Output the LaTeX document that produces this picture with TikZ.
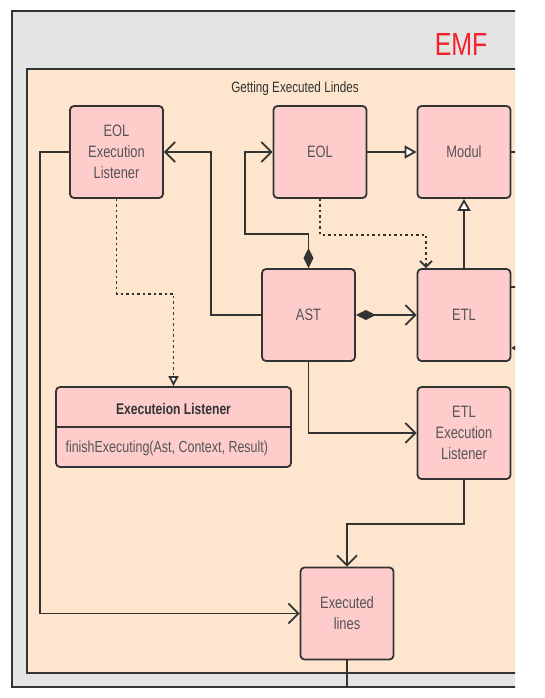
\documentclass[tikz,border=0pt]{standalone}
\usepackage{fontspec}
\setmainfont{Liberation Sans}[FakeStretch=0.78]
\usetikzlibrary{arrows.meta}
\definecolor{framegray}{HTML}{E4E4E4}
\definecolor{peach}{HTML}{FDE6CD}
\definecolor{boxpink}{HTML}{FFCCCC}
\definecolor{edge}{HTML}{333333}
\definecolor{labelgray}{HTML}{555555}
\definecolor{emfred}{HTML}{F5222D}
\tikzset{
  box/.style={draw=edge, fill=boxpink, line width=1.8pt, rounded corners=4pt,
    minimum width=93pt, minimum height=92pt, inner sep=0pt, align=center,
    text=labelgray, font=\fontsize{16.5}{21}\selectfont},
  classbox/.style={box, minimum width=235pt, minimum height=80pt},
  link/.style={draw=edge, line width=1.8pt, -{Straight Barb[length=10pt,width=20pt]}},
  owns/.style={link, {Diamond[length=20pt,width=10pt]}-{Straight Barb[length=10pt,width=20pt]}},
  inherit/.style={draw=edge, line width=1.8pt, -{Triangle[length=12pt,width=13pt,fill=white]}},
  realize/.style={draw=edge, line width=1.8pt, dash pattern=on 2.5pt off 3pt,
    -{Triangle[length=10pt,width=10pt,fill=white]}},
  uses/.style={draw=edge, line width=1.8pt, dash pattern=on 2.5pt off 3pt,
    -{Straight Barb[length=6pt,width=12pt]}},
  frameline/.style={draw=edge, line width=1.8pt},
}
\begin{document}
\begin{tikzpicture}[x=1pt, y=-1pt]
                    \useasboundingbox (0,0) rectangle (545,698);
                    \begin{scope}
                    \clip (0,0) rectangle (515,698);

                    % Drawing frame EMF
                    \fill [framegray] (12,11) rectangle (520,687);%
                    \draw [frameline] (520,11) -- (12,11) -- (12,687) -- (520,687);%
                    \node [text=emfred, font=\fontsize{32}{32}\selectfont, anchor=east] (emf) at (491,44) {EMF};%

                    % Drawing frame Getting Executed Lindes
                    \fill [peach] (27,69) rectangle (520,673);%
                    \draw [frameline] (520,69) -- (27,69) -- (27,673) -- (520,673);%
                    \node [text=edge, font=\fontsize{15}{16}\selectfont] (title) at (295,89) {Getting Executed Lindes};%

                    % Marking boxes
                    \node [box] (eolel) at (116.5,152) {EOL\\Execution\\Listener};%
                    \node [box] (eol) at (320,152) {EOL};%
                    \node [box] (modul) at (464,152) {Modul};%
                    \node [box] (ast) at (308.5,315) {AST};%
                    \node [box] (etl) at (464,315) {ETL};%
                    \node [box] (etlel) at (464,433) {ETL\\Execution\\Listener};%
                    \node [box] (lines) at (347,613.5) {Executed\\lines};%

                    % Marking class Executeion Listener
                    \node [classbox] (listener) at (173.5,427) {};%
                    \draw [frameline] (listener.west) -- (listener.east);%
                    \node [text=edge, font=\bfseries\fontsize{15.5}{18}\selectfont] (listenertitle) at (173.5,409) {Executeion Listener};%
                    \node [text=labelgray, font=\fontsize{16}{18}\selectfont, anchor=west] (listenerop) at (62,448) {finishExecuting(Ast, Context, Result)};%

                    % Drawing segment EOL Modul
                    \draw [inherit] (eol.east) -- (modul.west);%

                    % Drawing segment ETL Modul
                    \draw [inherit] (etl.north) -- (modul.south);%

                    % Drawing segment AST EOL Execution Listener
                    \draw [link] (ast.west) -- ++(-50,0) |- (eolel.east);%

                    % Drawing segment AST EOL
                    \coordinate (astbend) at (245,234);%
                    \draw [owns] (ast.north) |- (astbend) |- (eol.west);%

                    % Drawing segment AST ETL
                    \draw [owns] (ast.east) -- (etl.west);%

                    % Drawing segment AST ETL Execution Listener
                    \draw [link] (ast.south) |- (etlel.west);%

                    % Drawing segment EOL ETL (dotted)
                    \draw [uses] (eol.south) -- ++(0,36) -| ([xshift=-38pt]etl.north);%

                    % Drawing segment EOL Execution Listener Executeion Listener (dotted)
                    \draw [realize] (eolel.south) -- ++(0,95) -| (listener.north);%

                    % Drawing segment ETL Execution Listener Executed lines
                    \draw [link] (etlel.south) -- ++(0,44) -| (lines.north);%

                    % Drawing segment EOL Execution Listener Executed lines
                    \draw [link] (eolel.west) -- ++(-29,0) |- (lines.west);%

                    % Drawing segment Executed lines out
                    \draw [frameline] (lines.south) -- ++(0,27);%

                    % Drawing stubs on the right edge
                    \draw [frameline] (modul.east) -- ++(10,0);%
                    \draw [frameline] ([yshift=28pt]etl.east) -- ++(10,0);%
                    \draw [frameline, {Diamond[length=14pt,width=9pt]}-] ([yshift=-33pt]etl.east) -- ++(20,0);%
                    \end{scope}
                \end{tikzpicture}
\end{document}
